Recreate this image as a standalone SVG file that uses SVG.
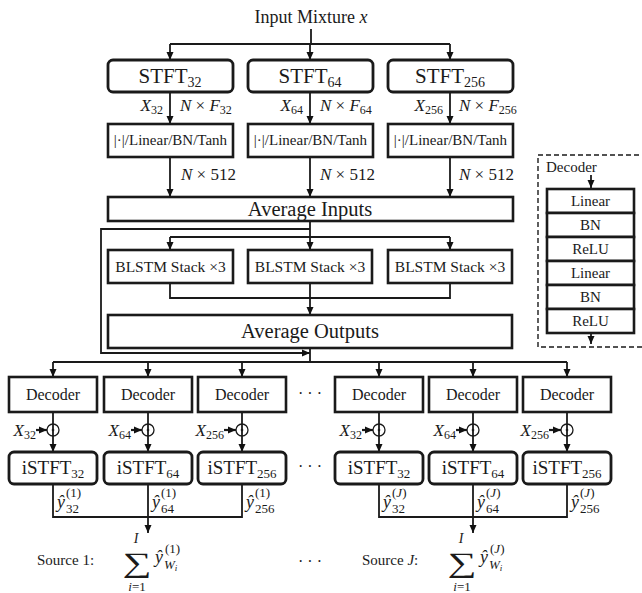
<svg xmlns="http://www.w3.org/2000/svg" width="642" height="593" viewBox="0 0 642 593">
<defs>
<marker id="ar" markerUnits="userSpaceOnUse" markerWidth="8" markerHeight="8" refX="8" refY="4" orient="auto"><path d="M0,0.5 L8,4 L0,7.5 z" fill="#111"/></marker>
<style>
text{font-family:"Liberation Serif","DejaVu Serif",serif;fill:#1a1a1a}
.i{font-style:italic}
.c{text-anchor:middle}
.e{text-anchor:end}
.rb{fill:#fff;stroke:#1a1a1a;stroke-width:2.8}
.sb{fill:#fff;stroke:#1a1a1a;stroke-width:2.6}
.ln{fill:none;stroke:#1a1a1a;stroke-width:1.8}
.a{fill:none;stroke:#1a1a1a;stroke-width:1.8;marker-end:url(#ar)}
.lab{font-size:17px}
.big{font-size:21px}
</style>
</defs>
<rect width="642" height="593" fill="#fff"/>

<g id="connectors">
<path class="ln" d="M311,29 V44 M170,44 H450"/>
<path class="a" d="M170,44 V60"/><path class="a" d="M310,44 V60"/><path class="a" d="M450,44 V60"/>
<path class="a" d="M170,92 V124"/><path class="a" d="M310,92 V124"/><path class="a" d="M450,92 V124"/>
<path class="a" d="M170,157 V197"/><path class="a" d="M310,157 V197"/><path class="a" d="M450,157 V197"/>
<path class="ln" d="M310,221 V237 M170,237 H450"/>
<path class="a" d="M170,237 V250"/><path class="a" d="M310,237 V250"/><path class="a" d="M450,237 V250"/>
<path class="a" d="M310,229 H101 V353 H310"/>
<path class="ln" d="M170,283 V298 H450 V283"/>
<path class="a" d="M310,283 V315"/>
<path class="ln" d="M310,348 V362 M53,362 H567"/>
<path class="a" d="M53,362 V377"/><path class="a" d="M148,362 V377"/><path class="a" d="M242,362 V377"/>
<path class="a" d="M379,362 V377"/><path class="a" d="M473,362 V377"/><path class="a" d="M567,362 V377"/>
<path class="a" d="M53,412 V452"/><path class="a" d="M148,412 V452"/><path class="a" d="M242,412 V452"/>
<path class="a" d="M379,412 V452"/><path class="a" d="M473,412 V452"/><path class="a" d="M567,412 V452"/>
<path class="a" d="M36,430 H47" style="stroke-width:2.2"/><path class="a" d="M131,430 H142" style="stroke-width:2.2"/><path class="a" d="M224,430 H236" style="stroke-width:2.2"/>
<path class="a" d="M362,430 H373" style="stroke-width:2.2"/><path class="a" d="M456,430 H467" style="stroke-width:2.2"/><path class="a" d="M549,430 H561" style="stroke-width:2.2"/>
<path class="ln" d="M53,484 V517 H242 V484"/><path class="a" d="M148,484 V533"/>
<path class="ln" d="M379,484 V517 H567 V484"/><path class="a" d="M473,484 V533"/>
<path class="a" d="M591,175 V188"/><path class="a" d="M591,333 V344"/>
</g>

<g id="odots" fill="none" stroke="#1a1a1a" stroke-width="1.3">
<circle cx="53" cy="430" r="6"/><circle cx="148" cy="430" r="6"/><circle cx="242" cy="430" r="6"/>
<circle cx="379" cy="430" r="6"/><circle cx="473" cy="430" r="6"/><circle cx="567" cy="430" r="6"/>
<g fill="#1a1a1a" stroke="none"><circle cx="53" cy="430" r="1.3"/><circle cx="148" cy="430" r="1.3"/><circle cx="242" cy="430" r="1.3"/><circle cx="379" cy="430" r="1.3"/><circle cx="473" cy="430" r="1.3"/><circle cx="567" cy="430" r="1.3"/></g>
</g>

<g id="input"><text x="311" y="23" class="c" font-size="18">Input Mixture <tspan class="i">x</tspan></text></g>

<g id="stft32"><rect class="rb" x="108" y="60" width="125" height="32" rx="5"/><text x="170" y="83" class="c big">STFT<tspan font-size="14" dy="4">32</tspan></text></g>
<g id="stft64"><rect class="rb" x="248" y="60" width="125" height="32" rx="5"/><text x="310" y="83" class="c big">STFT<tspan font-size="14" dy="4">64</tspan></text></g>
<g id="stft256"><rect class="rb" x="388" y="60" width="125" height="32" rx="5"/><text x="450" y="83" class="c big">STFT<tspan font-size="14" dy="4">256</tspan></text></g>

<g id="labels-stft" class="lab">
<text x="163" y="111" class="e lab"><tspan class="i">X</tspan><tspan font-size="12" dy="3">32</tspan></text>
<text x="180" y="111" class="lab"><tspan class="i">N</tspan> × <tspan class="i">F</tspan><tspan font-size="12" dy="3">32</tspan></text>
<text x="303" y="111" class="e lab"><tspan class="i">X</tspan><tspan font-size="12" dy="3">64</tspan></text>
<text x="320" y="111" class="lab"><tspan class="i">N</tspan> × <tspan class="i">F</tspan><tspan font-size="12" dy="3">64</tspan></text>
<text x="443" y="111" class="e lab"><tspan class="i">X</tspan><tspan font-size="12" dy="3">256</tspan></text>
<text x="459" y="111" class="lab"><tspan class="i">N</tspan> × <tspan class="i">F</tspan><tspan font-size="12" dy="3">256</tspan></text>
<text x="181" y="180" class="lab"><tspan class="i">N</tspan> × 512</text>
<text x="320" y="180" class="lab"><tspan class="i">N</tspan> × 512</text>
<text x="459" y="180" class="lab"><tspan class="i">N</tspan> × 512</text>
</g>

<g id="enc32"><rect class="sb" x="108" y="124" width="125" height="33"/><text x="170.5" y="145" class="c" font-size="15">|·|/Linear/BN/Tanh</text></g>
<g id="enc64"><rect class="sb" x="248" y="124" width="125" height="33"/><text x="310.5" y="145" class="c" font-size="15">|·|/Linear/BN/Tanh</text></g>
<g id="enc256"><rect class="sb" x="388" y="124" width="125" height="33"/><text x="450.5" y="145" class="c" font-size="15">|·|/Linear/BN/Tanh</text></g>

<g id="avg-in"><rect class="sb" x="108" y="197" width="405" height="24"/><text x="310" y="216" class="c" font-size="20.5">Average Inputs</text></g>

<g id="blstm1"><rect class="sb" x="108" y="250" width="125" height="33"/><text x="170.5" y="272" class="c" font-size="15.5">BLSTM Stack ×3</text></g>
<g id="blstm2"><rect class="sb" x="248" y="250" width="124" height="33"/><text x="310" y="272" class="c" font-size="15.5">BLSTM Stack ×3</text></g>
<g id="blstm3"><rect class="sb" x="388" y="250" width="124" height="33"/><text x="450" y="272" class="c" font-size="15.5">BLSTM Stack ×3</text></g>

<g id="avg-out"><rect class="sb" x="108" y="315" width="404" height="33"/><text x="310" y="338" class="c" font-size="20.5">Average Outputs</text></g>

<g id="decoder-detail">
<rect x="538" y="155" width="120" height="192" fill="none" stroke="#1a1a1a" stroke-width="1.4" stroke-dasharray="5,3"/>
<text x="546" y="172" font-size="15">Decoder</text>
<g class="sb"><rect x="547" y="189" width="87" height="24"/><rect x="547" y="213" width="87" height="24"/><rect x="547" y="237" width="87" height="24"/><rect x="547" y="261" width="87" height="24"/><rect x="547" y="285" width="87" height="24"/><rect x="547" y="309" width="87" height="24"/></g>
<g font-size="15"><text x="590.5" y="206" class="c">Linear</text><text x="590.5" y="230" class="c">BN</text><text x="590.5" y="254" class="c">ReLU</text><text x="590.5" y="278" class="c">Linear</text><text x="590.5" y="302" class="c">BN</text><text x="590.5" y="326" class="c">ReLU</text></g>
</g>

<g id="dec1"><rect class="sb" x="9" y="377" width="88" height="35"/><text x="53" y="400" class="c" font-size="16">Decoder</text></g>
<g id="dec2"><rect class="sb" x="104" y="377" width="88" height="35"/><text x="148" y="400" class="c" font-size="16">Decoder</text></g>
<g id="dec3"><rect class="sb" x="198" y="377" width="88" height="35"/><text x="242" y="400" class="c" font-size="16">Decoder</text></g>
<g id="dec4"><rect class="sb" x="335" y="377" width="88" height="35"/><text x="379" y="400" class="c" font-size="16">Decoder</text></g>
<g id="dec5"><rect class="sb" x="429" y="377" width="88" height="35"/><text x="473" y="400" class="c" font-size="16">Decoder</text></g>
<g id="dec6"><rect class="sb" x="523" y="377" width="88" height="35"/><text x="567" y="400" class="c" font-size="16">Decoder</text></g>

<g id="mask-labels">
<text x="36" y="436" class="e lab"><tspan class="i">X</tspan><tspan font-size="12" dy="3">32</tspan></text>
<text x="131" y="436" class="e lab"><tspan class="i">X</tspan><tspan font-size="12" dy="3">64</tspan></text>
<text x="224" y="436" class="e lab"><tspan class="i">X</tspan><tspan font-size="12" dy="3">256</tspan></text>
<text x="362" y="436" class="e lab"><tspan class="i">X</tspan><tspan font-size="12" dy="3">32</tspan></text>
<text x="456" y="436" class="e lab"><tspan class="i">X</tspan><tspan font-size="12" dy="3">64</tspan></text>
<text x="549" y="436" class="e lab"><tspan class="i">X</tspan><tspan font-size="12" dy="3">256</tspan></text>
</g>

<g id="istft1"><rect class="rb" x="9" y="452" width="88" height="32" rx="5"/><text x="53" y="474" class="c" font-size="19">iSTFT<tspan font-size="13" dy="4">32</tspan></text></g>
<g id="istft2"><rect class="rb" x="104" y="452" width="88" height="32" rx="5"/><text x="148" y="474" class="c" font-size="19">iSTFT<tspan font-size="13" dy="4">64</tspan></text></g>
<g id="istft3"><rect class="rb" x="198" y="452" width="88" height="32" rx="5"/><text x="242" y="474" class="c" font-size="19">iSTFT<tspan font-size="13" dy="4">256</tspan></text></g>
<g id="istft4"><rect class="rb" x="335" y="452" width="88" height="32" rx="5"/><text x="379" y="474" class="c" font-size="19">iSTFT<tspan font-size="13" dy="4">32</tspan></text></g>
<g id="istft5"><rect class="rb" x="429" y="452" width="88" height="32" rx="5"/><text x="473" y="474" class="c" font-size="19">iSTFT<tspan font-size="13" dy="4">64</tspan></text></g>
<g id="istft6"><rect class="rb" x="523" y="452" width="88" height="32" rx="5"/><text x="567" y="474" class="c" font-size="19">iSTFT<tspan font-size="13" dy="4">256</tspan></text></g>

<g id="ellipses" font-size="16">
<text x="310" y="399" class="c">· · ·</text>
<text x="310" y="472" class="c">· · ·</text>
<text x="310" y="567" class="c">· · ·</text>
</g>

<g id="y-labels">
<text x="57" y="508" class="i" font-size="18">ŷ</text><text x="66" y="497" font-size="13">(1)</text><text x="66" y="513" font-size="13">32</text>
<text x="152" y="508" class="i" font-size="18">ŷ</text><text x="161" y="497" font-size="13">(1)</text><text x="161" y="513" font-size="13">64</text>
<text x="246" y="508" class="i" font-size="18">ŷ</text><text x="255" y="497" font-size="13">(1)</text><text x="255" y="513" font-size="13">256</text>
<text x="383" y="508" class="i" font-size="18">ŷ</text><text x="392" y="497" font-size="13">(<tspan class="i">J</tspan>)</text><text x="392" y="513" font-size="13">32</text>
<text x="477" y="508" class="i" font-size="18">ŷ</text><text x="486" y="497" font-size="13">(<tspan class="i">J</tspan>)</text><text x="486" y="513" font-size="13">64</text>
<text x="571" y="508" class="i" font-size="18">ŷ</text><text x="580" y="497" font-size="13">(<tspan class="i">J</tspan>)</text><text x="580" y="513" font-size="13">256</text>
</g>

<g id="source1">
<text x="37" y="565" font-size="15">Source 1:</text>
<text x="136" y="543" class="c i" font-size="14">I</text>
<text class="c" font-size="28" transform="translate(137,572) scale(1.45,1)">∑</text>
<text x="137" y="591" class="c" font-size="13"><tspan class="i">i</tspan>=1</text>
<text x="155" y="563" class="i" font-size="18">ŷ</text><text x="165" y="553" font-size="13">(1)</text><text x="164" y="569" class="i" font-size="13">W<tspan font-size="9" dy="2">i</tspan></text>
</g>

<g id="sourceJ">
<text x="362" y="565" font-size="15">Source <tspan class="i">J</tspan>:</text>
<text x="461" y="543" class="c i" font-size="14">I</text>
<text class="c" font-size="28" transform="translate(462,572) scale(1.45,1)">∑</text>
<text x="462" y="591" class="c" font-size="13"><tspan class="i">i</tspan>=1</text>
<text x="480" y="563" class="i" font-size="18">ŷ</text><text x="490" y="553" font-size="13">(<tspan class="i">J</tspan>)</text><text x="489" y="569" class="i" font-size="13">W<tspan font-size="9" dy="2">i</tspan></text>
</g>
</svg>
